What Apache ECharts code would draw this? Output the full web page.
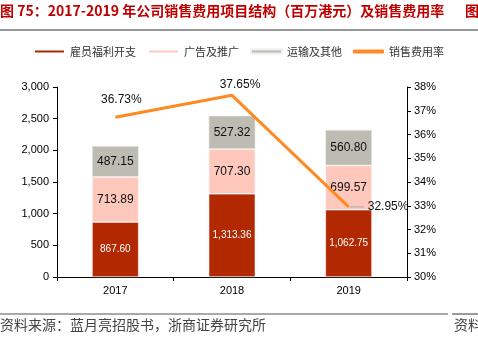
<!DOCTYPE html>
<html><head><meta charset="utf-8">
<script src="https://cdn.jsdelivr.net/npm/echarts@6/dist/echarts.min.js"></script>
<style>html,body{margin:0;padding:0;background:#fff}#c{width:478px;height:355px}</style>
</head><body><div id="c"></div>
<script>
var categories = ['2017', '2018', '2019'];
var staffCost = [867.60, 1313.36, 1062.75];
var adPromo = [713.89, 707.30, 699.57];
var transportOther = [487.15, 527.32, 560.80];
var salesRate = [36.73, 37.65, 32.95];
var seriesNames = ['雇员福利开支', '广告及推广', '运输及其他', '销售费用率'];
var titleText = '图 75：2017-2019 年公司销售费用项目结构（百万港元）及销售费用率';
var sourceText = '资料来源：蓝月亮招股书，浙商证券研究所';

var chart = echarts.init(document.getElementById('c'));
var fmt = function (v) { return Number(v).toLocaleString('en-US', {minimumFractionDigits: 2, maximumFractionDigits: 2}); };
var font = '"Liberation Sans", Arial, sans-serif';
var cjk = '"Noto Sans CJK SC", sans-serif';
chart.setOption({
  animation: false,
  textStyle: {fontFamily: font},
  graphic: [
    {type: 'text', left: 0, top: 4, style: {text: titleText, fill: '#c00000', font: 'bold 14px ' + cjk}},
    {type: 'text', left: 465, top: 4, style: {text: '图', fill: '#c00000', font: 'bold 14px ' + cjk}},
    {type: 'line', shape: {x1: 0, y1: 30, x2: 478, y2: 30}, style: {stroke: '#333', lineWidth: 1.2}},
    {type: 'line', shape: {x1: 0, y1: 314, x2: 448, y2: 314}, style: {stroke: '#555', lineWidth: 1.2}},
    {type: 'line', shape: {x1: 452, y1: 314, x2: 478, y2: 314}, style: {stroke: '#555', lineWidth: 1.2}},
    {type: 'text', left: 0, top: 318, style: {text: sourceText, fill: '#444', font: '14px ' + cjk}},
    {type: 'text', left: 454, top: 318, style: {text: '资料', fill: '#444', font: '14px ' + cjk}}
  ],
  legend: {
    top: 46, left: 33, padding: 0, itemWidth: 31, itemHeight: 4, itemGap: 11,
    textStyle: {fontFamily: cjk, fontSize: 11, color: '#333'},
    data: [
      {name: seriesNames[0], icon: 'rect'},
      {name: seriesNames[1], icon: 'rect'},
      {name: seriesNames[2], icon: 'rect'},
      {name: seriesNames[3], icon: 'roundRect'}
    ]
  },
  grid: {left: 57, right: 71, top: 87, bottom: 78},
  xAxis: {
    type: 'category', data: categories,
    axisLine: {lineStyle: {color: '#000'}},
    axisTick: {show: true, length: 4, lineStyle: {color: '#000'}},
    axisLabel: {color: '#000', fontSize: 11, margin: 8}
  },
  yAxis: [
    {type: 'value', min: 0, max: 3000, interval: 500, splitLine: {show: false},
      axisLine: {show: true, lineStyle: {color: '#000'}},
      axisTick: {show: true, length: 4, lineStyle: {color: '#000'}},
      axisLabel: {color: '#000', fontSize: 11, margin: 8, formatter: function (v) { return v.toLocaleString('en-US'); }}},
    {type: 'value', min: 30, max: 38, interval: 1, splitLine: {show: false},
      axisLine: {show: true, lineStyle: {color: '#000'}},
      axisTick: {show: true, length: 4, lineStyle: {color: '#000'}},
      axisLabel: {color: '#000', fontSize: 11, margin: 7, formatter: '{value}%'}}
  ],
  series: [
    {name: seriesNames[0], type: 'bar', stack: 's', barWidth: '40%', data: staffCost,
      itemStyle: {color: '#b22800', borderColor: '#fff', borderWidth: 0.6},
      label: {show: true, position: 'inside', color: '#fff', fontSize: 10, formatter: function (p) { return fmt(p.value); }}},
    {name: seriesNames[1], type: 'bar', stack: 's', data: adPromo,
      itemStyle: {color: '#ffc8bc', borderColor: '#fff', borderWidth: 0.6},
      label: {show: true, position: 'inside', color: '#111', fontSize: 12, formatter: function (p) { return fmt(p.value); }}},
    {name: seriesNames[2], type: 'bar', stack: 's', data: transportOther,
      itemStyle: {color: '#bcbcb2', borderColor: '#eee', borderWidth: 0.6},
      label: {show: true, position: 'inside', color: '#111', fontSize: 12, formatter: function (p) { return fmt(p.value); }}},
    {name: seriesNames[3], type: 'line', yAxisIndex: 1, data: [
        {value: salesRate[0], label: {position: 'top', offset: [6, -6]}},
        {value: salesRate[1], label: {position: 'top', offset: [8, 0]}},
        {value: salesRate[2], label: {position: 'right', distance: 1, formatter: '{l|}{t|' + salesRate[2].toFixed(2) + '%}'}}
      ],
      symbol: 'circle', symbolSize: 0.1, showSymbol: true,
      lineStyle: {color: '#ff8a24', width: 3},
      itemStyle: {color: '#ff8a24'},
      label: {show: true, color: '#111', fontSize: 12, formatter: function (p) { return p.value.toFixed(2) + '%'; },
        rich: {l: {width: 14, height: 1, backgroundColor: '#aaa'}, t: {color: '#111', fontSize: 12, padding: [0, 0, 0, 4]}}}
    }
  ]
});
</script></body></html>
